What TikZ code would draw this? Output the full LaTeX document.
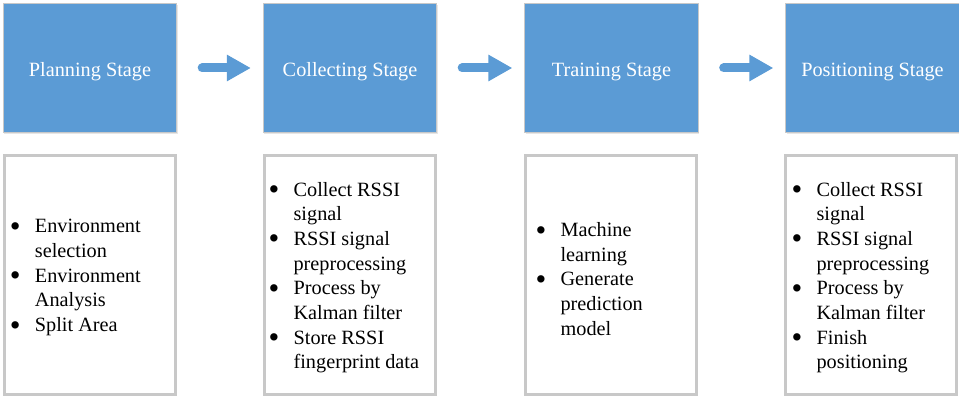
\documentclass[tikz,border=0pt]{standalone}
\usepackage{fontspec}
\setmainfont{Liberation Serif}[Ligatures=TeX]
\usetikzlibrary{arrows.meta,shadows}
\definecolor{stageblue}{HTML}{5B9BD5}
\definecolor{boxgray}{HTML}{C8C8C8}
\newcommand{\stitem}[1]{\makebox[18.75pt][l]{\raisebox{-2.6pt}{\fontsize{23}{18.5}\selectfont\textbullet}}#1}
\newcommand{\stcont}[1]{\hspace*{18.75pt}#1}
\tikzset{
  stage/.style={fill=stageblue, draw=boxgray, line width=0.75pt,
    minimum width=130pt, minimum height=97pt, inner sep=0pt,
    drop shadow={opacity=0.2, shadow xshift=0.8pt, shadow yshift=-1pt}},
  title/.style={text=white, font=\rmfamily\fontsize{15.2}{18.5}\selectfont},
  detail/.style={draw=boxgray, line width=2.25pt, fill=white,
    minimum width=128.25pt, minimum height=179.25pt},
  itemlist/.style={anchor=west, align=left, inner sep=0pt,
    font=\rmfamily\fontsize{15.2}{18.5}\selectfont},
  flow/.style={draw=stageblue, line width=6.75pt, line cap=round,
    -{Triangle[length=18pt, width=18.75pt]},
    shorten <=18.75pt, shorten >=9pt}
}
\begin{document}
\begin{tikzpicture}[x=0.75pt, y=-0.75pt]
    \useasboundingbox (0,0) rectangle (959,409);
    % stages
    \node[stage] (plan) at (90,68) {};
    \node[stage] (collect) at (350,68) {};
    \node[stage] (train) at (611.5,68) {};
    \node[stage] (pos) at (872.5,68) {};
    \node[title] (plantitle) at ([yshift=-3pt]plan.center) {Planning Stage};
    \node[title] (collecttitle) at ([yshift=-3pt]collect.center) {Collecting Stage};
    \node[title] (traintitle) at ([yshift=-3pt]train.center) {Training Stage};
    \node[title] (postitle) at ([yshift=-3pt]pos.center) {Positioning Stage};
    \draw[flow] (plan.east) -- (collect.west);
    \draw[flow] (collect.east) -- (train.west);
    \draw[flow] (train.east) -- (pos.west);
    % details
    \node[detail] (planbox) at (90,275) {};
    \node[detail] (collectbox) at (350,275) {};
    \node[detail] (trainbox) at (611,275) {};
    \node[detail] (posbox) at (871,275) {};
    \node[itemlist] (plantext) at ([xshift=5pt, yshift=-2pt]planbox.west) {%
        \stitem{Environment}\\ \stcont{selection}\\
        \stitem{Environment}\\ \stcont{Analysis}\\
        \stitem{Split Area}};
    \node[itemlist] (collecttext) at ([xshift=4pt, yshift=-2pt]collectbox.west) {%
        \stitem{Collect RSSI}\\ \stcont{signal}\\
        \stitem{RSSI signal}\\ \stcont{preprocessing}\\
        \stitem{Process by}\\ \stcont{Kalman filter}\\
        \stitem{Store RSSI}\\ \stcont{fingerprint data}};
    \node[itemlist] (traintext) at ([xshift=8.5pt, yshift=-3pt]trainbox.west) {%
        \stitem{Machine}\\ \stcont{learning}\\
        \stitem{Generate}\\ \stcont{prediction}\\
        \stcont{model}};
    \node[itemlist] (postext) at ([xshift=5.5pt, yshift=-2pt]posbox.west) {%
        \stitem{Collect RSSI}\\ \stcont{signal}\\
        \stitem{RSSI signal}\\ \stcont{preprocessing}\\
        \stitem{Process by}\\ \stcont{Kalman filter}\\
        \stitem{Finish}\\ \stcont{positioning}};
\end{tikzpicture}
\end{document}
